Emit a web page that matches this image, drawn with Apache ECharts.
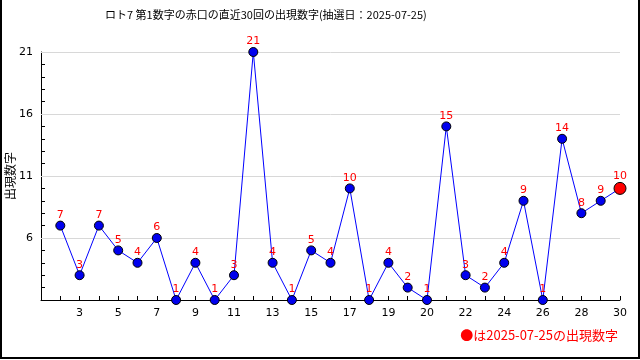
<!DOCTYPE html>
<html><head><meta charset="utf-8">
<script src="https://cdn.jsdelivr.net/npm/echarts@6/dist/echarts.min.js"></script>
<style>html,body{margin:0;padding:0;background:#fff}#c{width:640px;height:360px}</style>
</head><body><div id="c"></div>
<script>
const titleText = 'ロト7 第1数字の赤口の直近30回の出現数字(抽選日：2025-07-25)';
const yName = '出現数字';
const noteText = '●は2025-07-25の出現数字';
const draws = [1,2,3,4,5,6,7,8,9,10,11,12,13,14,15,16,17,18,19,20,21,22,23,24,25,26,27,28,29,30];
const values = [7,3,7,5,4,6,1,4,1,3,21,4,1,5,4,10,1,4,2,1,15,3,2,4,9,1,14,8,9,10];
const xTickPositions = [2,4,6,8,10,12,14,16,18,20,22,24,26,28,30];
const xTickLabels = ['3','5','7','9','11','13','15','17','19','20','22','24','26','28','30'];
const yTickLabels = [6,11,16,21];
const gridValues = [6,11,16,21];

const font = "'DejaVu Sans', 'Noto Sans CJK JP', sans-serif";
const cjk = "'Noto Sans CJK JP', sans-serif";
const last = values.length - 1;
const data = draws.map((d, i) => {
  const item = { value: [d, values[i]] };
  if (i === last) {
    item.symbolSize = 12;
    item.itemStyle = { color: '#ff0000', borderColor: '#000', borderWidth: 1 };
  }
  return item;
});

const chart = echarts.init(document.getElementById('c'), null, { renderer: 'canvas' });
chart.setOption({
  animation: false,
  backgroundColor: '#fff',
  title: {
    text: titleText, left: 100, top: 4,
    textStyle: { fontSize: 11, fontWeight: 'normal', color: '#000', fontFamily: cjk }
  },
  grid: { left: 41, right: 20, top: 52, bottom: 60, containLabel: false, outerBoundsMode: 'none' },
  xAxis: {
    type: 'value', min: 0, max: 30, interval: 1,
    axisLine: { show: true, lineStyle: { color: '#000', width: 1 } },
    axisTick: { show: true, inside: true, length: 4, lineStyle: { color: '#000' } },
    splitLine: { show: false },
    axisLabel: {
      color: '#000', fontSize: 11, fontFamily: font, margin: 8,
      showMinLabel: true, showMaxLabel: true, hideOverlap: false,
      formatter: v => { const k = xTickPositions.indexOf(v); return k >= 0 ? xTickLabels[k] : ''; }
    }
  },
  yAxis: {
    type: 'value', min: 1, max: 21, interval: 1,
    axisLine: { show: true, lineStyle: { color: '#000', width: 1 } },
    axisTick: { show: true, inside: true, length: 4, lineStyle: { color: '#000' } },
    splitLine: { show: false },
    axisLabel: {
      color: '#000', fontSize: 11, fontFamily: font, margin: 8,
      formatter: v => yTickLabels.indexOf(v) >= 0 ? String(v) : ''
    }
  },
  series: [{
    type: 'line', data: data,
    symbol: 'circle', symbolSize: 9,
    lineStyle: { color: '#0000ff', width: 1 },
    itemStyle: { color: '#0000ee', borderColor: '#000', borderWidth: 1 },
    label: {
      show: true, position: 'top', distance: 0, color: '#ff0000', fontSize: 11, fontFamily: font,
      formatter: p => String(p.value[1])
    },
    z: 3,
    markLine: {
      silent: true, symbol: 'none', animation: false, z: 1,
      label: { show: false },
      lineStyle: { color: '#d8d8d8', type: 'solid', width: 1 },
      data: gridValues.map(v => ({ yAxis: v }))
    }
  }],
  graphic: [
    { type: 'text', x: 10, y: 176, rotation: Math.PI / 2,
      style: { text: yName, fill: '#000', fontSize: 12, fontFamily: cjk, align: 'center', verticalAlign: 'middle' } },
    { type: 'text', right: 22, top: 329, style: { text: noteText, fill: '#ff0000', fontSize: 13, fontFamily: cjk } },
    { type: 'polyline', shape: { points: [[1, 0], [1, 358], [639, 358], [639, 0]] }, style: { stroke: '#000', lineWidth: 2, fill: null } }
  ]
});
</script></body></html>
